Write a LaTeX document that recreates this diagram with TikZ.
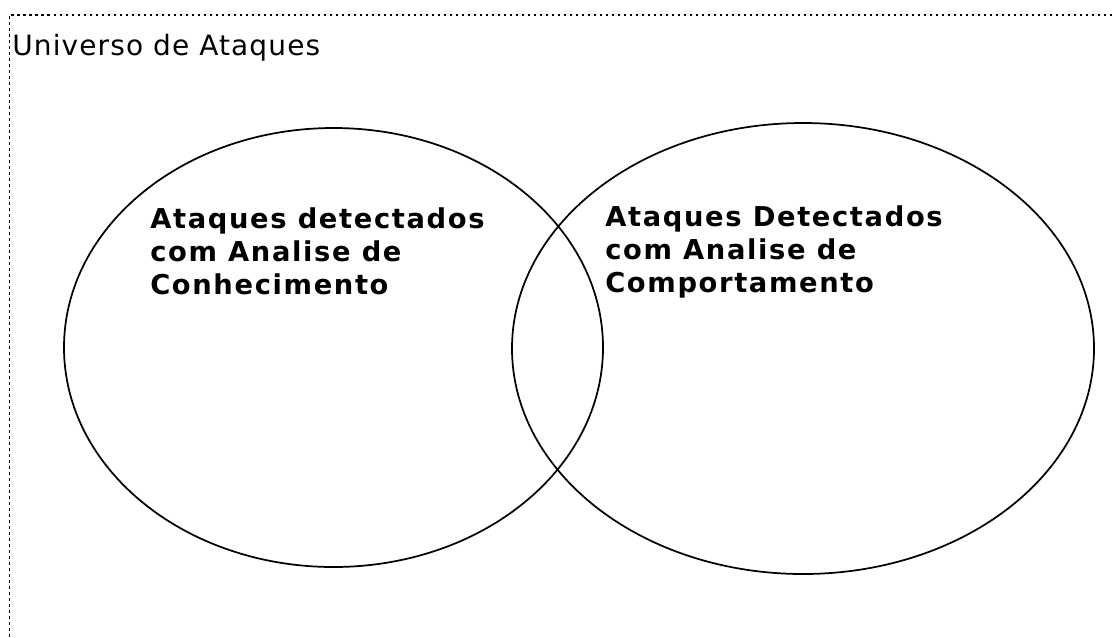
\documentclass[tikz,border=0pt]{standalone}
\usepackage{fontspec}
\setmainfont{DejaVu Sans}
\begin{document}
\begin{tikzpicture}[x=0.75pt,y=0.75pt,yscale=-1,xscale=1]
\tikzset{
  setlabel/.style={anchor=north west, align=left, inner sep=0pt,
    font=\fontsize{20.5pt}{25pt}\selectfont\addfontfeatures{LetterSpace=6}\bfseries},
  venn/.style={line width=1.3pt}
}
\useasboundingbox (0,0) rectangle (1112,637);

%Straight Lines: border
\draw [dash pattern={on 2pt off 2.5pt}, line width=1.1pt]  (9.5,637) -- (9.5,15) -- (1112,15) ;
%Text
\node [anchor=base west, inner sep=0pt, font=\fontsize{21pt}{24pt}\selectfont\addfontfeatures{LetterSpace=4}] (universo) at (12,55) {Universo de Ataques};

%Shape: Ellipse
\draw [venn]  (333.5,347.5) ellipse (269.5 and 219.5) ;
%Shape: Ellipse
\draw [venn]  (803,348.5) ellipse (291 and 225.5) ;

%Text
\node [setlabel] (conhecimento) at (150,207) {Ataques detectados\\com Analise de\\Conhecimento};
%Text
\node [setlabel] (comportamento) at (605,205) {Ataques Detectados\\com Analise de\\Comportamento};

\end{tikzpicture}
\end{document}
